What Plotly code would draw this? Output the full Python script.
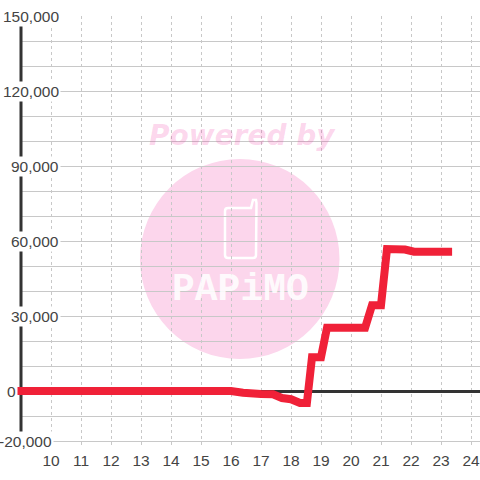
import plotly.graph_objects as go

hours = [8.84, 16, 16.4, 17, 17.4, 17.7, 18, 18.3, 18.53, 18.7, 19, 19.2, 20.47, 20.7, 21, 21.2, 21.8, 22.1, 23.37]
values = [0, 0, -700, -1200, -1300, -2800, -3300, -4800, -4800, 13500, 13500, 25300, 25300, 34300, 34300, 56800, 56600, 55700, 55700]
x_ticks = list(range(10, 25))
y_labels = ["150,000", "120,000", "90,000", "60,000", "30,000", "0", "-20,000"]
y_label_values = [150000, 120000, 90000, 60000, 30000, 0, -20000]
y_label_right = [59, 59, 59, 59, 59, 16, 52]

L, T, W, H = 16, 16, 464, 432
GRID_LEFT = 21
def X(px): return (px - L) / W
def Y(py): return 1 - (py - T) / H

FONT = "Liberation Sans"
TXT = "#444444"
PINK = "#fcd6ec"
Y_RANGE = [-22800, 150000]

fig = go.Figure()
fig.add_trace(go.Scatter(x=[9, 9], y=[-18000, 147000], mode="lines", xaxis="x2", yaxis="y2",
                         line=dict(color="#333333", width=3), hoverinfo="skip", showlegend=False))
fig.add_trace(go.Scatter(x=hours, y=values, mode="lines", xaxis="x2", yaxis="y2",
                         line=dict(color="#f02138", width=8, simplify=False), showlegend=False))

shapes = [
    dict(type="circle", xref="paper", yref="paper", layer="below",
         x0=X(140), x1=X(339.5), y0=Y(359), y1=Y(159), fillcolor=PINK, line=dict(width=0)),
]
p = lambda a, b: f"{X(a):.5f},{Y(b):.5f}"
phone = (f"M {p(228,208)} L {p(251,208)} L {p(253,200)} L {p(256,200)} L {p(256.5,203)} "
         f"L {p(256,255)} Q {p(256,258)} {p(253,258)} L {p(228,258)} Q {p(225,258)} {p(225,255)} "
         f"L {p(225,211)} Q {p(225,208)} {p(228,208)} Z")
shapes.append(dict(type="path", xref="paper", yref="paper", layer="below", path=phone,
                   line=dict(color="white", width=2.5)))

ann = [
    dict(text="Powered by", xref="paper", yref="paper", x=X(242.5), y=Y(135), yanchor="middle", showarrow=False,
         font=dict(family="DejaVu Sans", size=28, weight="bold", style="italic", color="rgba(240,50,160,0.2)")),
    dict(text="PAPiMO", xref="paper", yref="paper", x=X(240), y=Y(289), yanchor="middle", showarrow=False,
         font=dict(family="Liberation Mono", size=38, weight="bold", color="rgba(255,255,255,0.88)")),
]
for lab, val, right in zip(y_labels, y_label_values, y_label_right):
    ann.append(dict(text=lab, xref="paper", yref="y", x=X(right + 2), y=val, xanchor="right", yanchor="middle",
                    showarrow=False, bgcolor="white", borderpad=1, font=dict(family=FONT, size=15.5, color=TXT)))

fig.update_layout(
    width=480, height=480, autosize=False,
    margin=dict(l=L, r=0, t=T, b=480 - T - H, pad=0),
    paper_bgcolor="white", plot_bgcolor="rgba(0,0,0,0)",
    shapes=shapes, annotations=ann, showlegend=False,
    xaxis=dict(domain=[X(GRID_LEFT), 1], range=[9, 24.3], anchor="y", tickvals=x_ticks, ticktext=[str(v) for v in x_ticks],
               showgrid=True, gridcolor="#c8c8c8", gridwidth=1, griddash="3px,3px",
               zeroline=False, showline=False, ticks="", ticklabelstandoff=1,
               tickfont=dict(family=FONT, size=15.5, color=TXT)),
    yaxis=dict(range=Y_RANGE, anchor="x", tick0=0, dtick=10000, showticklabels=False,
               showgrid=True, gridcolor="#c8c8c8", gridwidth=1, ticks="",
               zeroline=True, zerolinecolor="#333333", zerolinewidth=3, showline=False),
    xaxis2=dict(domain=[0, 1], range=[9 - (GRID_LEFT - L) / 30, 24.3], anchor="y2", visible=False, showgrid=False, zeroline=False),
    yaxis2=dict(range=Y_RANGE, anchor="x2", visible=False, showgrid=False, zeroline=False),
)
fig.write_html("out.html", config=dict(displayModeBar=False),
               post_script="document.body.style.margin='0';document.documentElement.style.overflow='hidden';")
